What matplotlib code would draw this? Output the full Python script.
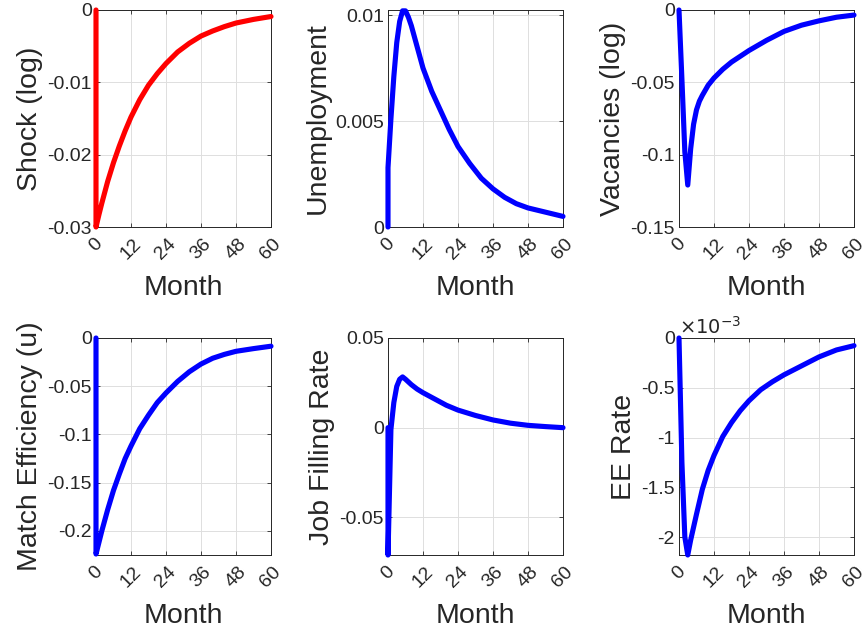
import numpy as np
import matplotlib
matplotlib.use("Agg")
import matplotlib.pyplot as plt
from matplotlib.ticker import FuncFormatter

plt.rcParams['font.family'] = ['Liberation Sans', 'DejaVu Sans']

# impulse responses (months after the shock)
shock_t = [0, 0, 1, 2, 3, 4, 6, 8, 10, 12, 15, 18, 21, 24, 28, 32, 36, 40, 44, 48, 54, 60]
shock = [0, -0.030, -0.0283, -0.0267, -0.0252, -0.0237, -0.0211, -0.0188, -0.0167, -0.0148,
         -0.0124, -0.0104, -0.0088, -0.0074, -0.0058, -0.0046, -0.0036, -0.0029, -0.0023,
         -0.0018, -0.0013, -0.0009]

unemp_t = [0, 0, 1, 2, 3, 4, 5, 6, 7, 8, 10, 12, 15, 18, 21, 24, 28, 32, 36, 40, 44, 48, 54, 60]
unemp = [0, 0.0028, 0.0051, 0.0071, 0.0087, 0.0097, 0.0102, 0.0102, 0.0099, 0.0095, 0.0085,
         0.0075, 0.0064, 0.0055, 0.0046, 0.0038, 0.0030, 0.0023, 0.0018, 0.0014, 0.0011,
         0.0009, 0.0007, 0.0005]

vac_t = [0, 1, 2, 3, 4, 5, 6, 7, 8, 10, 12, 15, 18, 21, 24, 30, 36, 42, 48, 54, 60]
vac = [0, -0.048, -0.098, -0.121, -0.096, -0.079, -0.069, -0.063, -0.059, -0.052, -0.047,
       -0.041, -0.036, -0.032, -0.028, -0.021, -0.0148, -0.0105, -0.0075, -0.005, -0.0035]

match_t = [0, 0, 1, 2, 3, 4, 6, 8, 10, 12, 15, 18, 21, 24, 28, 32, 36, 40, 44, 48, 54, 60]
match_eff = [0, -0.224, -0.212, -0.200, -0.189, -0.178, -0.158, -0.141, -0.125, -0.112, -0.094,
             -0.080, -0.067, -0.057, -0.045, -0.035, -0.027, -0.021, -0.017, -0.0138, -0.011,
             -0.0085]

jfill_t = [0, 0, 1, 2, 3, 4, 5, 6, 8, 10, 12, 16, 20, 24, 30, 36, 42, 48, 54, 60]
jfill = [0, -0.071, -0.001, 0.014, 0.023, 0.027, 0.0283, 0.027, 0.024, 0.0215, 0.0195, 0.016,
         0.0125, 0.0098, 0.0068, 0.0043, 0.0025, 0.0013, 0.0006, 0.0]

ee_t = [0, 1, 2, 3, 4, 5, 6, 8, 10, 12, 15, 18, 21, 24, 28, 32, 36, 42, 48, 54, 60]
ee_rate = [0, -1.25e-3, -2.0e-3, -2.18e-3, -2.03e-3, -1.9e-3, -1.77e-3, -1.52e-3, -1.33e-3,
           -1.18e-3, -0.99e-3, -0.85e-3, -0.73e-3, -0.63e-3, -0.52e-3, -0.44e-3, -0.37e-3,
           -0.28e-3, -0.19e-3, -0.12e-3, -0.077e-3]

month_ticks = [0, 12, 24, 36, 48, 60]

panels = [
    (shock_t, shock, 'red', 'Shock (log)', (-0.03, 0), [-0.03, -0.02, -0.01, 0], 1),
    (unemp_t, unemp, 'blue', 'Unemployment', (0, 0.01024), [0, 0.005, 0.01], 1),
    (vac_t, vac, 'blue', 'Vacancies (log)', (-0.15, 0), [-0.15, -0.1, -0.05, 0], 1),
    (match_t, match_eff, 'blue', 'Match Efficiency (u)', (-0.225, 0),
     [-0.2, -0.15, -0.1, -0.05, 0], 1),
    (jfill_t, jfill, 'blue', 'Job Filling Rate', (-0.071, 0.05), [-0.05, 0, 0.05], 1),
    (ee_t, ee_rate, 'blue', 'EE Rate', (-2.18e-3, 0), [-2e-3, -1.5e-3, -1e-3, -0.5e-3, 0], 1e3),
]

W, H = 868, 635
lefts = [96, 388, 679]
tops = [10, 338]
aw, ah = 175, 217
dark = '#262626'

fig = plt.figure(figsize=(W / 100, H / 100), dpi=100)

for i, (t, y, col, label, ylim, yticks, scale) in enumerate(panels):
    r, c = divmod(i, 3)
    ax = fig.add_axes([lefts[c] / W, 1 - (tops[r] + ah) / H, aw / W, ah / H])
    ax.plot(t, y, color=col, lw=3.7, clip_on=False, solid_joinstyle='round',
            solid_capstyle='round', zorder=3)
    ax.set_xlim(0, 60)
    ax.set_ylim(*ylim)
    ax.set_xticks(month_ticks)
    ax.set_yticks(yticks)
    ax.yaxis.set_major_formatter(FuncFormatter(lambda v, p, s=scale: '%g' % round(v * s, 6)))
    ax.tick_params(direction='in', length=3, width=0.6, top=True, right=True,
                   labelsize=14, colors=dark)
    ax.tick_params(axis='x', pad=6)
    ax.tick_params(axis='y', pad=3)
    for lab in ax.get_xticklabels():
        lab.set_rotation(45)
        lab.set_ha('center')
    ax.grid(True, color='#dedede', lw=0.7)
    ax.set_axisbelow(True)
    for sp in ax.spines.values():
        sp.set_color(dark)
        sp.set_linewidth(0.7)
    ax.set_xlabel('Month', fontsize=20.5, color=dark, labelpad=9)
    ax.set_ylabel(label, fontsize=20.5, color=dark, labelpad=3)
    if scale != 1:
        ax.text(0.0, 1.0, r'$\times10^{-3}$', transform=ax.transAxes, fontsize=14,
                color=dark, ha='left', va='bottom')

fig.savefig('out.png', dpi=100)
